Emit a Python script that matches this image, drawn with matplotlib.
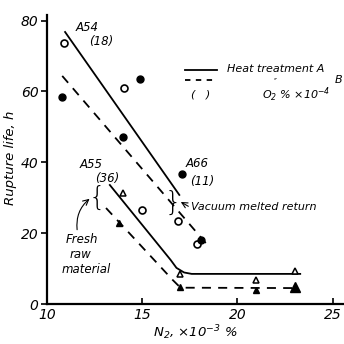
import numpy as np
import matplotlib
matplotlib.use("Agg")
import matplotlib.pyplot as plt

plt.rcParams['font.family'] = ['DejaVu Sans']
plt.rcParams['font.style'] = 'italic'
plt.rcParams['mathtext.default'] = 'it'

# vacuum melted return
vac_A_x = [10.95, 16.95]
vac_A_y = [76.8, 30.8]
vac_B_x = [10.8, 18.5]
vac_B_y = [64.4, 16.2]

# fresh raw material
fresh_A_x = [13.3, 16.5, 16.8, 17.2, 17.6, 23.3]
fresh_A_y = [33.6, 12.4, 10.2, 8.9, 8.5, 8.5]
fresh_B_x = [13.1, 16.6, 16.9, 17.2, 22.9]
fresh_B_y = [27.1, 6.8, 5.2, 4.6, 4.5]

open_circ_x = [10.9, 14.05, 15.0, 16.9, 17.9]
open_circ_y = [73.7, 61.0, 26.6, 23.4, 17.0]
fill_circ_x = [10.8, 14.9, 14.0, 17.1, 18.1]
fill_circ_y = [58.5, 63.6, 47.2, 36.7, 18.1]
open_tri_x = [14.0, 17.0, 21.0, 23.0]
open_tri_y = [31.4, 8.5, 6.8, 9.3]
fill_tri_x = [13.8, 17.0, 21.0]
fill_tri_y = [22.9, 4.8, 4.0]
big_tri_x = [23.0]
big_tri_y = [4.8]

fig = plt.figure(figsize=(3.44, 3.44), dpi=100)
ax = fig.add_axes([47/344, 40/344, 297/344, 289/344])
ax.set_xlim(10, 25.6)
ax.set_ylim(0, 81.6)

ax.plot(vac_A_x, vac_A_y, '-', color='black', lw=1.3)
ax.plot(vac_B_x, vac_B_y, '--', color='black', lw=1.3, dashes=(5, 4))
ax.plot(fresh_A_x, fresh_A_y, '-', color='black', lw=1.3)
ax.plot(fresh_B_x, fresh_B_y, '--', color='black', lw=1.3, dashes=(5, 4))

ax.plot(open_circ_x, open_circ_y, 'o', mfc='white', mec='black', ms=5, mew=1.2)
ax.plot(fill_circ_x, fill_circ_y, 'o', color='black', ms=5)
ax.plot(open_tri_x, open_tri_y, '^', mfc='white', mec='black', ms=5, mew=1.1)
ax.plot(fill_tri_x, fill_tri_y, '^', color='black', ms=4.5)
ax.plot(big_tri_x, big_tri_y, '^', color='black', ms=7)

for s in ['top', 'right']:
    ax.spines[s].set_visible(False)
for s in ['left', 'bottom']:
    ax.spines[s].set_linewidth(1.6)

ax.set_xticks([10, 15, 20, 25])
ax.set_yticks([0, 20, 40, 60, 80])
ax.tick_params(axis='x', direction='in', length=4, width=1.2, labelsize=10, pad=3)
ax.tick_params(axis='y', direction='out', length=4, width=1.2, labelsize=10, pad=2)

ax.set_ylabel("Rupture life, h", fontsize=9.5)
ax.yaxis.set_label_coords(-0.1, 0.505)
ax.set_xlabel("N$_2$, ×10$^{-3}$ %", fontsize=9.5, labelpad=1)

# legend drawn by hand
ax.plot([0.466, 0.574], [0.808, 0.808], '-', color='black', lw=1.3, transform=ax.transAxes)
ax.plot([0.466, 0.574], [0.775, 0.775], '--', color='black', lw=1.3, dashes=(3, 3),
        transform=ax.transAxes)
ax.text(0.605, 0.812, "Heat treatment A", transform=ax.transAxes, fontsize=8, va='center')
ax.text(0.765, 0.768, "\u2033", transform=ax.transAxes, fontsize=5.5, va='center')
ax.text(0.97, 0.775, "B", transform=ax.transAxes, fontsize=8, va='center')
ax.text(0.485, 0.726, "(   )", transform=ax.transAxes, fontsize=8, va='center')
ax.text(0.725, 0.724, "O$_2$ % ×10$^{-4}$", transform=ax.transAxes, fontsize=8, va='center')

# annotations
ax.text(11.5, 78.2, "A54", fontsize=8.5, va='center')
ax.text(12.2, 74.0, "(18)", fontsize=8.5, va='center')
ax.text(17.3, 39.8, "A66", fontsize=8.5, va='center')
ax.text(17.5, 34.5, "(11)", fontsize=8.5, va='center')
ax.text(11.7, 39.3, "A55", fontsize=8.5, va='center')
ax.text(12.5, 35.3, "(36)", fontsize=8.5, va='center')
ax.text(17.55, 27.4, "Vacuum melted return", fontsize=8, va='center')
ax.text(16.6, 28.6, "}", fontsize=19, va='center', ha='center', style='normal',
        fontweight='light')
ax.annotate("", xy=(16.9, 29.2), xytext=(17.55, 27.2),
            arrowprops=dict(arrowstyle='->', color='black', lw=0.8))
ax.text(12.6, 30.2, "{", fontsize=19, va='center', ha='center', style='normal',
        fontweight='light')
ax.annotate("", xy=(12.35, 30.2), xytext=(11.6, 20.2),
            arrowprops=dict(arrowstyle='->', color='black', lw=0.8,
                            connectionstyle='arc3,rad=-0.3'))
ax.text(11.85, 18.2, "Fresh", fontsize=8.5, va='center', ha='center')
ax.text(11.75, 13.9, "raw", fontsize=8.5, va='center', ha='center')
ax.text(12.05, 9.7, "material", fontsize=8.5, va='center', ha='center')

fig.savefig("out.png", dpi=100)
